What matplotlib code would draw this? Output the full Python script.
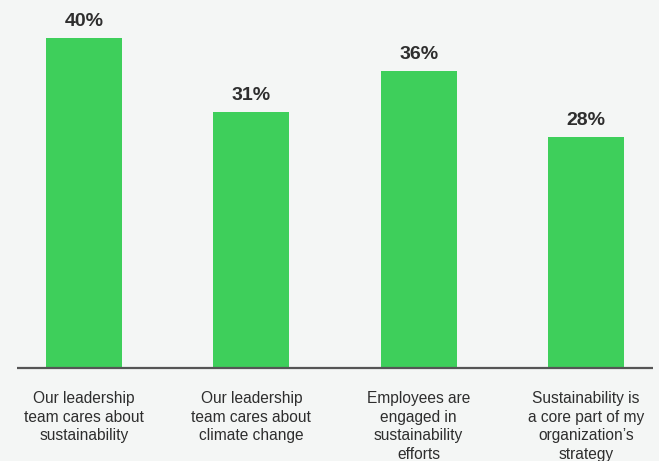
import matplotlib
matplotlib.use("Agg")
import matplotlib.pyplot as plt

categories = [
    "Our leadership\nteam cares about\nsustainability",
    "Our leadership\nteam cares about\nclimate change",
    "Employees are\nengaged in\nsustainability\nefforts",
    "Sustainability is\na core part of my\norganization\u2019s\nstrategy",
]
values = [40, 31, 36, 28]
value_labels = ["40%", "31%", "36%", "28%"]

BG = "#F4F6F5"
GREEN = "#3ECF5B"
TEXT = "#2E2E2E"

plt.rcParams["font.family"] = ["Liberation Sans", "DejaVu Sans"]

fig = plt.figure(figsize=(6.59, 4.61), dpi=100, facecolor=BG)
W, H = 659, 461
base_px = 367.5
px_per_unit = 8.25
ax = fig.add_axes([0, (H - base_px) / H, 1, base_px / H])
ax.set_facecolor(BG)

spacing = 167.3
x = list(range(len(values)))
ax.bar(x, values, width=76 / spacing, color=GREEN, zorder=2)
ax.set_xlim(-84 / spacing, 3 + (W - 586) / spacing)
ax.set_ylim(0, base_px / px_per_unit)

# baseline
ax.plot([-84 / spacing + 17 / spacing, 3 + (653 - 586) / spacing], [0, 0],
        color="#555555", lw=1.6, solid_capstyle="butt", zorder=3, clip_on=False)

for xi, v, lab in zip(x, values, value_labels):
    ax.annotate(lab, xy=(xi, v), xytext=(0, 8.2), textcoords="offset points",
                ha="center", va="baseline", fontsize=14, fontweight="bold",
                color=TEXT)

for xi, cat in zip(x, categories):
    ax.annotate(cat, xy=(xi, 0), xytext=(0, -17), textcoords="offset points",
                ha="center", va="top", fontsize=11.2, color=TEXT,
                linespacing=1.29, annotation_clip=False)

ax.axis("off")
fig.savefig("out.png", dpi=100, facecolor=BG)
